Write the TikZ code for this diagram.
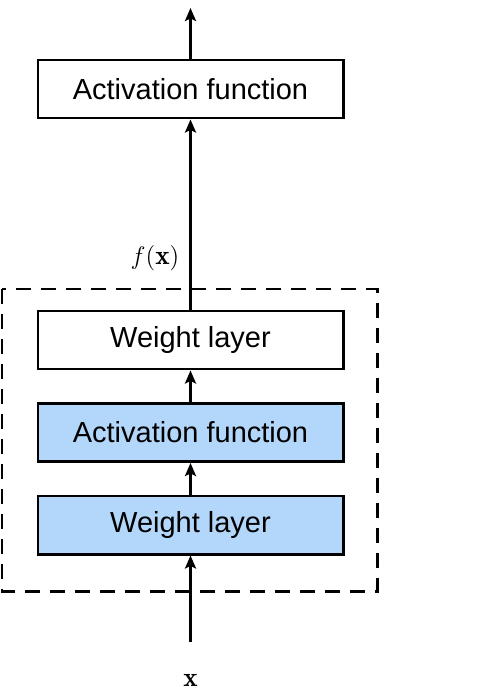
\documentclass[tikz,border=0pt]{standalone}
\usepackage{fontspec}
\setsansfont{Liberation Sans}
\usetikzlibrary{arrows.meta}
\pgfdeclarelayer{edgelayer}
\pgfdeclarelayer{nodelayer}
\pgfsetlayers{edgelayer,nodelayer,main}
\definecolor{lightblue}{RGB}{178,215,250}
\tikzset{font=\sffamily\fontsize{16.5}{18}\selectfont}
\tikzstyle{none}=[inner sep=0pt]
\tikzstyle{mathlabel}=[inner sep=0pt,font=\fontsize{15.5}{18}\selectfont]
\tikzstyle{layer}=[draw,line width=1.7pt,minimum width=6.1cm,minimum height=1.16cm,inner sep=0pt]
\tikzstyle{bluelayer}=[layer,fill=lightblue]
\tikzstyle{arr}=[line width=1.7pt,-{Stealth[length=0.26cm,width=0.22cm,inset=0.05cm]}]

\begin{document}
\begin{tikzpicture}
	\useasboundingbox (0,0) rectangle (9.54,-13.92);
	\begin{pgfonlayer}{nodelayer}
		\node [style=layer] (act2) at (3.81, -1.78) {Activation function};
		\node [style=layer] (w2) at (3.81, -6.8) {Weight layer};
		\node [style=bluelayer] (act1) at (3.81, -8.65) {Activation function};
		\node [style=bluelayer] (w1) at (3.81, -10.5) {Weight layer};
		\node [style=mathlabel] (fx) at (3.1, -5.16) {$f(\mathbf{x})$};
		\node [style=mathlabel] (x) at (3.81, -13.6) {$\mathbf{x}$};
		\coordinate (in) at (3.81, -12.84);
		\coordinate (out) at (3.81, -0.16);
	\end{pgfonlayer}
	\begin{pgfonlayer}{edgelayer}
		\draw[line width=1.7pt, dash pattern=on 0.3cm off 0.2cm] (0.04, -5.78) rectangle (7.54, -11.82);
		\draw[style=arr] (in) to (w1);
		\draw[style=arr] (w1) to (act1);
		\draw[style=arr] (act1) to (w2);
		\draw[style=arr] (w2) to (act2);
		\draw[style=arr] (act2) to (out);
	\end{pgfonlayer}
\end{tikzpicture}
\end{document}
